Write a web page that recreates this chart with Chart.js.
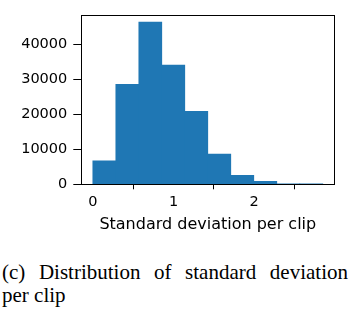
<!DOCTYPE html>
<html>
<head>
<meta charset="utf-8">
<script src="https://cdn.jsdelivr.net/npm/chart.js@4"></script>
<style>
  html, body { margin: 0; padding: 0; background: #fff; }
  #wrap { position: relative; width: 352px; height: 312px; overflow: hidden; }
  #c { position: absolute; left: 0; top: 0; }
  .cap { position: absolute; left: 2px; width: 346px; font-family: "Liberation Serif", "Times New Roman", serif; font-size: 21px; line-height: 23.4px; color: #000; white-space: nowrap; }
  #cap1 { top: 260.5px; text-align: justify; text-align-last: justify; white-space: normal; }
  #cap2 { top: 283.9px; }
</style>
</head>
<body>
<div id="wrap">
  <canvas id="c" width="352" height="240"></canvas>
  <div class="cap" id="cap1">(c) Distribution of standard deviation</div>
  <div class="cap" id="cap2">per clip</div>
</div>
<script>
// Histogram bins (left edges) of standard deviation per clip
const binStarts = [0, 0.285, 0.57, 0.855, 1.14, 1.425, 1.71, 1.995, 2.28, 2.565];
const binWidth = 0.285;
const counts = [6700, 28500, 46300, 34000, 20800, 8600, 2550, 880, 20, 5];
const xTicks = [0, 1, 2];
const yTicks = [0, 10000, 20000, 30000, 40000];
const xLabel = 'Standard deviation per clip';

const points = binStarts.map((s, i) => ({ x: s + binWidth / 2, y: counts[i] }));

const framePlugin = {
  id: 'frame',
  afterDraw(chart) {
    const { ctx, chartArea: a } = chart;
    ctx.save();
    ctx.strokeStyle = '#000';
    ctx.lineWidth = 1;
    ctx.strokeRect(Math.round(a.left) + 0.5, Math.round(a.top) + 0.5,
                   Math.round(a.right) - Math.round(a.left), Math.round(a.bottom) - Math.round(a.top));
    ctx.restore();
  }
};

new Chart(document.getElementById('c'), {
  type: 'bar',
  data: {
    datasets: [{
      data: points,
      backgroundColor: '#1f77b4',
      borderWidth: 0,
      barPercentage: 1,
      categoryPercentage: 1,
      grouped: false
    }]
  },
  options: {
    responsive: false,
    animation: false,
    devicePixelRatio: 1,
    layout: { padding: { left: 0, top: 2.3, right: 17.7, bottom: 0 } },
    plugins: { legend: { display: false }, tooltip: { enabled: false } },
    scales: {
      x: {
        type: 'linear',
        offset: false,
        min: -0.1425,
        max: 2.9925,
        afterBuildTicks(s) { s.ticks = xTicks.map(v => ({ value: v })); },
        afterFit(s) { s.height = 240 - 184.3; },
        grid: { display: true, drawOnChartArea: false, drawTicks: true, tickLength: 5, color: '#000', lineWidth: 1 },
        border: { display: false },
        ticks: { color: '#000', padding: 4, maxRotation: 0, font: { family: 'DejaVu Sans', size: 14.5 } },
        title: { display: true, text: xLabel, color: '#000', padding: { top: 0, bottom: 6 }, font: { family: 'DejaVu Sans', size: 16 } }
      },
      y: {
        min: 0,
        max: 48400,
        afterBuildTicks(s) { s.ticks = yTicks.map(v => ({ value: v })); },
        afterFit(s) { s.width = 81.3; },
        grid: { display: true, drawOnChartArea: false, drawTicks: true, tickLength: 8, color: '#000', lineWidth: 1 },
        border: { display: false },
        ticks: { color: '#000', padding: 6, font: { family: 'DejaVu Sans', size: 14.5 }, callback: v => String(v) }
      }
    }
  },
  plugins: [framePlugin]
});
</script>
</body>
</html>
